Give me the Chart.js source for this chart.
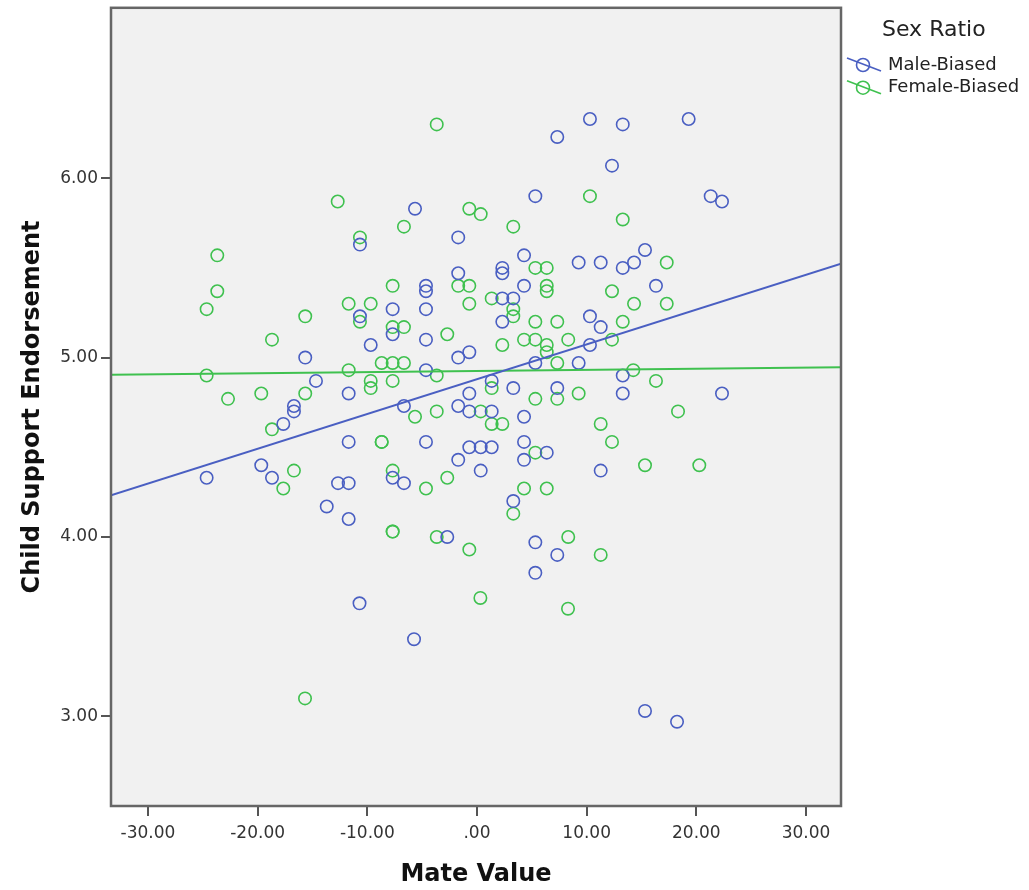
<!DOCTYPE html>
<html>
<head>
<meta charset="utf-8">
<title>Child Support Endorsement by Mate Value</title>
<script src="https://cdn.jsdelivr.net/npm/chart.js@4.4.1/dist/chart.umd.min.js"></script>
<style>
  html, body { margin: 0; padding: 0; background: #fff; }
</style>
</head>
<body>
<canvas id="scatter" width="1029" height="890"></canvas>
<script>
// Mate value (x) vs child support endorsement (y), one list of [x, y] per group
const seriesNames = ['Male-Biased', 'Female-Biased'];
const seriesColors = ['#4a5fc2', '#3fc14f'];

const malePoints = [
  [-10.67, 5.63], [-10.67, 5.23], [10.30, 6.33], [7.32, 6.23], [12.31, 6.07], [5.32, 5.90],
  [-5.65, 5.83], [-1.71, 5.67], [4.29, 5.57], [9.27, 5.53], [11.28, 5.53], [2.31, 5.50],
  [2.31, 5.47], [-1.71, 5.47], [-4.65, 5.40], [-4.65, 5.37], [4.29, 5.40], [2.31, 5.33],
  [3.31, 5.33], [-7.69, 5.27], [-4.65, 5.27], [2.31, 5.20], [10.30, 5.23], [11.28, 5.17],
  [-7.69, 5.13], [-4.65, 5.10], [-9.69, 5.07], [10.30, 5.07], [-0.70, 5.03], [13.29, 6.30],
  [19.30, 6.33], [21.31, 5.90], [22.34, 5.87], [15.32, 5.60], [13.29, 5.50], [14.32, 5.53],
  [16.32, 5.40], [-15.66, 5.00], [-14.68, 4.87], [-11.70, 4.80], [-16.69, 4.73], [-16.69, 4.70],
  [-17.66, 4.63], [-11.70, 4.53], [-19.67, 4.40], [-24.65, 4.33], [-18.69, 4.33], [-12.67, 4.30],
  [-11.70, 4.30], [-13.70, 4.17], [-11.70, 4.10], [-1.71, 5.00], [-4.65, 4.93], [5.32, 4.97],
  [9.27, 4.97], [1.34, 4.87], [3.31, 4.83], [-0.70, 4.80], [7.32, 4.83], [-6.66, 4.73],
  [-1.71, 4.73], [-0.70, 4.70], [1.34, 4.70], [4.29, 4.67], [-4.65, 4.53], [4.29, 4.53],
  [-0.70, 4.50], [0.34, 4.50], [1.34, 4.50], [6.36, 4.47], [-1.71, 4.43], [4.29, 4.43],
  [-7.69, 4.33], [-6.66, 4.30], [0.34, 4.37], [11.28, 4.37], [3.31, 4.20], [-2.71, 4.00],
  [5.32, 3.97], [7.32, 3.90], [5.32, 3.80], [13.29, 4.90], [13.29, 4.80], [22.34, 4.80],
  [-10.71, 3.63], [-5.74, 3.43], [15.32, 3.03], [18.24, 2.97]
];

const femalePoints = [
  [-12.70, 5.87], [-23.68, 5.57], [-23.68, 5.37], [-24.65, 5.27], [-15.66, 5.23], [-11.70, 5.30],
  [-18.69, 5.10], [-10.67, 5.67], [-10.67, 5.20], [-3.67, 6.30], [10.30, 5.90], [-0.70, 5.83],
  [0.34, 5.80], [-6.66, 5.73], [3.31, 5.73], [5.32, 5.50], [6.36, 5.50], [-7.69, 5.40],
  [-1.71, 5.40], [-0.70, 5.40], [6.36, 5.40], [6.36, 5.37], [12.31, 5.37], [-9.69, 5.30],
  [-0.70, 5.30], [1.34, 5.33], [3.31, 5.27], [3.31, 5.23], [5.32, 5.20], [7.32, 5.20],
  [-7.69, 5.17], [-6.66, 5.17], [-2.71, 5.13], [2.31, 5.07], [4.29, 5.10], [5.32, 5.10],
  [6.36, 5.07], [8.32, 5.10], [12.31, 5.10], [13.29, 5.77], [17.30, 5.53], [14.32, 5.30],
  [17.30, 5.30], [13.29, 5.20], [-24.65, 4.90], [-11.70, 4.93], [-22.70, 4.77], [-19.67, 4.80],
  [-15.66, 4.80], [-18.69, 4.60], [-16.69, 4.37], [-17.66, 4.27], [6.36, 5.03], [-8.69, 4.97],
  [-7.69, 4.97], [-6.66, 4.97], [-3.67, 4.90], [7.32, 4.97], [-9.69, 4.87], [-9.69, 4.83],
  [-7.69, 4.87], [1.34, 4.83], [5.32, 4.77], [7.32, 4.77], [9.27, 4.80], [0.34, 4.70],
  [-3.67, 4.70], [-5.65, 4.67], [1.34, 4.63], [2.31, 4.63], [11.28, 4.63], [-8.69, 4.53],
  [-8.69, 4.53], [12.31, 4.53], [5.32, 4.47], [-7.69, 4.37], [-2.71, 4.33], [-4.65, 4.27],
  [4.29, 4.27], [6.36, 4.27], [3.31, 4.13], [-7.69, 4.03], [-7.69, 4.03], [-3.67, 4.00],
  [-0.70, 3.93], [8.32, 4.00], [11.28, 3.90], [14.25, 4.93], [16.32, 4.87], [18.33, 4.70],
  [15.32, 4.40], [20.27, 4.40], [0.31, 3.66], [8.30, 3.60], [-15.68, 3.10]
];

// fit lines: [intercept, slope]
const maleFit = [4.879, 0.0194];
const femaleFit = [4.925, 0.00064];

const xRange = [-33.37, 33.19];
const yRange = [2.5, 6.95];
const xTickValues = [-30, -20, -10, 0, 10, 20, 30];
const yTickValues = [3, 4, 5, 6];

const FONT = '"DejaVu Sans", Verdana, sans-serif';

function toXY(list) {
  return list.map(p => ({ x: p[0], y: p[1] }));
}

function fitLine(fit) {
  return xRange.map(x => ({ x: x, y: fit[0] + fit[1] * x }));
}

function fmtTick(v) {
  return v === 0 ? '.00' : v.toFixed(2);
}

const pointStyle = (color) => ({
  type: 'scatter',
  backgroundColor: 'rgba(0,0,0,0)',
  borderColor: color,
  borderWidth: 1.6,
  pointRadius: 6.2,
  pointHoverRadius: 6.2,
  order: 1
});

const lineStyle = (color) => ({
  type: 'line',
  borderColor: color,
  borderWidth: 2,
  pointRadius: 0,
  fill: false,
  order: 0
});

// gray plot background + frame
const plotFrame = {
  id: 'plotFrame',
  beforeDraw(chart) {
    const { ctx, chartArea: a } = chart;
    ctx.save();
    ctx.fillStyle = '#f1f1f1';
    ctx.fillRect(a.left, a.top, a.right - a.left, a.bottom - a.top);
    ctx.restore();
  },
  afterDraw(chart) {
    const { ctx, chartArea: a } = chart;
    ctx.save();
    ctx.strokeStyle = '#666';
    ctx.lineWidth = 2.5;
    ctx.strokeRect(a.left, a.top, a.right - a.left, a.bottom - a.top);
    ctx.restore();
  }
};

// legend to the right: circle with the fit line through it
const sideLegend = {
  id: 'sideLegend',
  afterDraw(chart) {
    const ctx = chart.ctx;
    ctx.save();
    ctx.textBaseline = 'middle';
    ctx.fillStyle = '#222';
    ctx.font = '22px ' + FONT;
    ctx.fillText('Sex Ratio', 882, 30);
    ctx.font = '18px ' + FONT;
    seriesNames.forEach((name, i) => {
      const cy = 65 + i * 22.7;
      const col = seriesColors[i];
      ctx.strokeStyle = col;
      ctx.lineWidth = 1.6;
      ctx.beginPath();
      ctx.arc(863, cy, 6.5, 0, Math.PI * 2);
      ctx.stroke();
      ctx.beginPath();
      ctx.moveTo(847, cy - 7);
      ctx.lineTo(881, cy + 6);
      ctx.stroke();
      ctx.fillStyle = '#222';
      ctx.fillText(name, 888, cy);
    });
    ctx.restore();
  }
};

const axisGrid = {
  drawOnChartArea: false,
  drawTicks: true,
  tickLength: 10,
  color: '#555',
  lineWidth: 2
};

// fixed axis boxes, no extra room for half labels at the ends
function fixBox(size) {
  return s => {
    if (s.isHorizontal()) s.height = size; else s.width = size;
    s.paddingTop = 0;
    s.paddingBottom = 0;
    s.paddingLeft = 0;
    s.paddingRight = 0;
  };
}

new Chart(document.getElementById('scatter'), {
  type: 'scatter',
  data: {
    datasets: [
      Object.assign({ label: seriesNames[0] + ' fit', data: fitLine(maleFit) }, lineStyle(seriesColors[0])),
      Object.assign({ label: seriesNames[1] + ' fit', data: fitLine(femaleFit) }, lineStyle(seriesColors[1])),
      Object.assign({ label: seriesNames[0], data: toXY(malePoints) }, pointStyle(seriesColors[0])),
      Object.assign({ label: seriesNames[1], data: toXY(femalePoints) }, pointStyle(seriesColors[1]))
    ]
  },
  options: {
    responsive: false,
    animation: false,
    devicePixelRatio: 1,
    layout: { padding: { top: 5, right: 188, bottom: 0, left: 0 } },
    plugins: {
      legend: { display: false },
      tooltip: { enabled: false }
    },
    scales: {
      x: {
        type: 'linear',
        min: xRange[0],
        max: xRange[1],
        afterBuildTicks: s => { s.ticks = xTickValues.map(v => ({ value: v })); },
        afterFit: fixBox(84),
        border: { display: false },
        grid: axisGrid,
        ticks: {
          callback: fmtTick,
          color: '#333',
          font: { family: FONT, size: 17 },
          padding: 7,
          maxRotation: 0,
          autoSkip: false
        },
        title: {
          display: true,
          text: 'Mate Value',
          color: '#111',
          font: { family: FONT, size: 24, weight: 'bold' },
          padding: { top: 0, bottom: 1 }
        }
      },
      y: {
        type: 'linear',
        min: yRange[0],
        max: yRange[1],
        afterBuildTicks: s => { s.ticks = yTickValues.map(v => ({ value: v })); },
        afterFit: fixBox(111),
        border: { display: false },
        grid: axisGrid,
        ticks: {
          callback: fmtTick,
          color: '#333',
          font: { family: FONT, size: 17 },
          padding: 3,
          autoSkip: false
        },
        title: {
          display: true,
          text: 'Child Support Endorsement',
          color: '#111',
          font: { family: FONT, size: 24, weight: 'bold' },
          padding: { top: 18, bottom: 0 }
        }
      }
    }
  },
  plugins: [plotFrame, sideLegend]
});
</script>
</body>
</html>
